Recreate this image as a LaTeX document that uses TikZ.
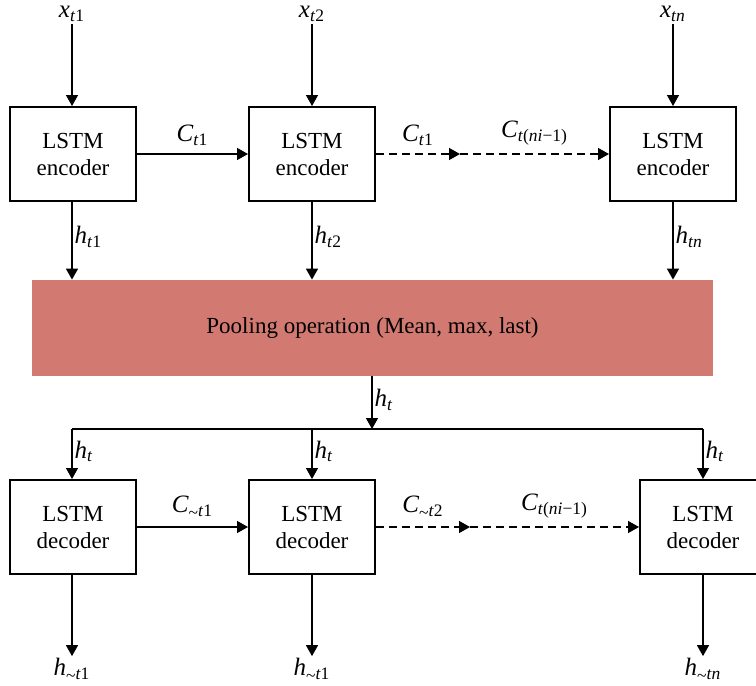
\documentclass[tikz,border=0pt]{standalone}
\usepackage{fontspec}
\setmainfont{Liberation Serif}
\usetikzlibrary{arrows.meta}
\definecolor{poolred}{HTML}{D27A72}
\newcommand{\lbl}[2]{\textit{#1}\textsubscript{#2}}
\newcommand{\tl}{\raisebox{-0.25ex}{\textasciitilde}}
\tikzset{
  every node/.style={font=\fontsize{11.5}{13.5}\selectfont},
  lstm/.style={draw, line width=1pt, minimum width=63pt, minimum height=47pt, align=center, inner sep=0pt},
  conn/.style={line width=0.7pt, -{Triangle[length=5.5pt,width=6pt]}},
  plainline/.style={line width=0.7pt},
  dashconn/.style={line width=0.7pt, dash pattern=on 4pt off 2.5pt, -{Triangle[length=5.5pt,width=6pt]}},
  lab/.style={inner sep=1pt, font=\fontsize{12.5}{14}\selectfont}
}
\begin{document}
\begin{tikzpicture}[x=0.5pt,y=-0.5pt]
\clip (0,0) rectangle (756,686);
\useasboundingbox (0,0) rectangle (756,686);
% encoders
\node[lstm] (e1) at (73,154) {LSTM\\encoder};
\node[lstm] (e2) at (312,154) {LSTM\\encoder};
\node[lstm] (e3) at (673,154) {LSTM\\encoder};
% inputs
\node[lab] (x1) at (72,14) {\lbl{x}{\textit{t}1}};
\node[lab] (x2) at (312,14) {\lbl{x}{\textit{t}2}};
\node[lab] (x3) at (673,14) {\lbl{x}{\textit{tn}}};
\draw[conn] (x1) -- (e1.north -| x1);
\draw[conn] (x2) -- (e2.north -| x2);
\draw[conn] (x3) -- (e3.north -| x3);
% pooling
\node[fill=poolred, minimum width=340.5pt, minimum height=48pt, inner sep=0pt] (pool) at (372.5,328) {Pooling operation (Mean, max, last)};
\draw[conn] (e1.south -| 72,0) -- (pool.north -| 72,0) node[pos=0.45, right, lab] {\lbl{h}{\textit{t}1}};
\draw[conn] (e2.south) -- (pool.north -| e2) node[pos=0.45, right, lab] {\lbl{h}{\textit{t}2}};
\draw[conn] (e3.south) -- (pool.north -| e3) node[pos=0.45, right, lab] {\lbl{h}{\textit{tn}}};
% encoder chain
\coordinate (em) at (460,154);
\draw[conn] (e1.east) -- (e2.west) node[midway, above=3pt, lab] {\lbl{C}{\textit{t}1}};
\draw[dashconn] (e2.east) -- (em) node[midway, above=3pt, lab] {\lbl{C}{\textit{t}1}};
\draw[dashconn] (em) -- (e3.west) node[midway, above=3pt, lab] {\lbl{C}{\textit{t}(\textit{ni}−1)}};
% distribution
\coordinate (j) at (372,429);
\coordinate (jl) at (72,429);
\coordinate (jm) at (312,429);
\coordinate (jr) at (703,429);
\draw[conn] (pool.south -| j) -- (j) node[pos=0.45, right, lab] {\lbl{h}{\textit{t}}};
\draw[plainline] (jl) -- (jr);
% decoders
\node[lstm] (d1) at (73,527) {LSTM\\decoder};
\node[lstm] (d2) at (312,527) {LSTM\\decoder};
\node[lstm] (d3) at (703,527) {LSTM\\decoder};
\draw[conn] (jl) -- (d1.north -| jl) node[pos=0.45, right, lab] {\lbl{h}{\textit{t}}};
\draw[conn] (jm) -- (d2.north) node[pos=0.45, right, lab] {\lbl{h}{\textit{t}}};
\draw[conn] (jr) -- (d3.north) node[pos=0.45, right, lab] {\lbl{h}{\textit{t}}};
% decoder chain
\coordinate (dm) at (470,527);
\draw[conn] (d1.east) -- (d2.west) node[midway, above=3pt, lab] {\lbl{C}{\tl\textit{t}1}};
\draw[dashconn] (d2.east) -- (dm) node[midway, above=3pt, lab] {\lbl{C}{\tl\textit{t}2}};
\draw[dashconn] (dm) -- (d3.west) node[midway, above=3pt, lab] {\lbl{C}{\textit{t}(\textit{ni}−1)}};
% outputs
\node[lab] (o1) at (72,670) {\lbl{h}{\tl\textit{t}1}};
\node[lab] (o2) at (312,670) {\lbl{h}{\tl\textit{t}1}};
\node[lab] (o3) at (703,670) {\lbl{h}{\tl\textit{tn}}};
\draw[conn] (d1.south -| o1) -- (o1);
\draw[conn] (d2.south) -- (o2);
\draw[conn] (d3.south) -- (o3);
\end{tikzpicture}
\end{document}
